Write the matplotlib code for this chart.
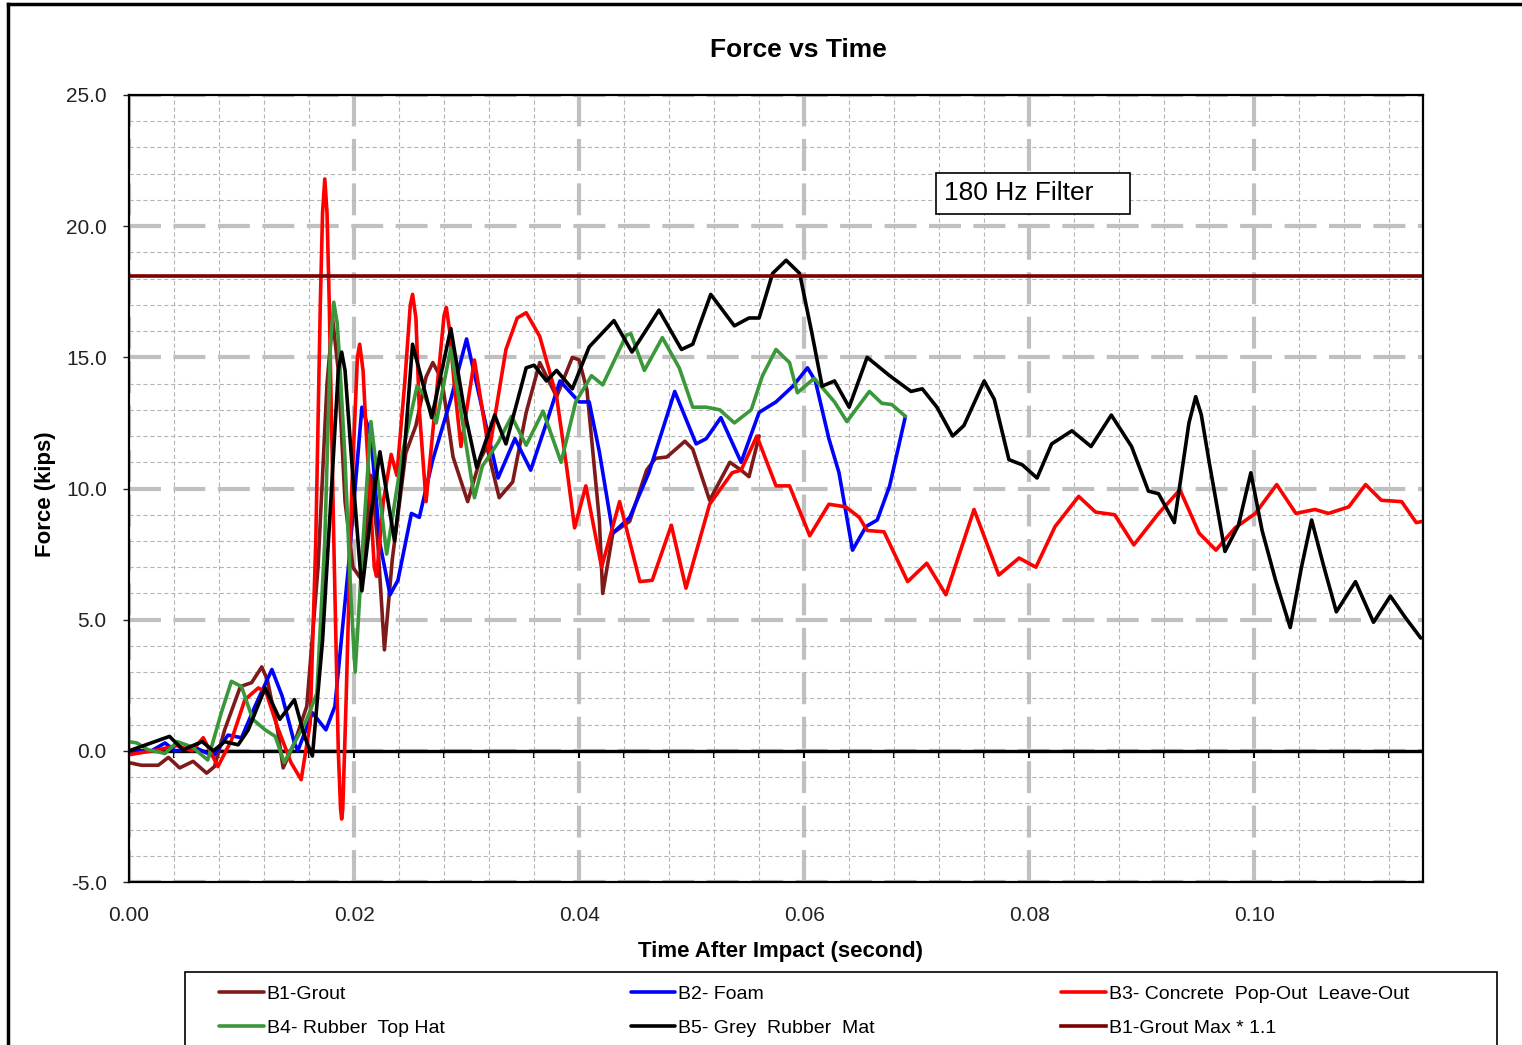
import matplotlib
matplotlib.use('Agg')
import matplotlib.pyplot as plt
import numpy as np
from matplotlib.lines import Line2D
from matplotlib.patches import Rectangle

plt.rcParams['font.family'] = ['Liberation Sans', 'DejaVu Sans']
plt.rcParams['lines.scale_dashes'] = False

# (time [s], force [kips])
b1_grout = [(0, -0.45), (0.0011, -0.55), (0.0026, -0.55), (0.0035, -0.25), (0.0045, -0.65),
            (0.0057, -0.4), (0.0069, -0.85), (0.0076, -0.6), (0.0085, 0.8), (0.0099, 2.45),
            (0.0109, 2.6), (0.0118, 3.2), (0.0123, 2.7), (0.0132, 0.8), (0.0137, -0.65),
            (0.0147, 0.3), (0.0158, 1.7), (0.0168, 7.0), (0.0176, 14.0), (0.0181, 16.45),
            (0.0186, 14.5), (0.0192, 9.5), (0.0199, 7.0), (0.0207, 6.5), (0.0215, 10.5),
            (0.0221, 8.0), (0.0227, 3.85), (0.0234, 7.3), (0.0246, 11.35), (0.0255, 12.4),
            (0.0264, 14.25), (0.027, 14.8), (0.0278, 14.15), (0.0288, 11.2), (0.0301, 9.5),
            (0.0312, 11.1), (0.0318, 11.6), (0.0329, 9.65), (0.0341, 10.25), (0.0353, 12.9),
            (0.0365, 14.8), (0.038, 13.5), (0.0394, 15.0), (0.04, 14.9), (0.0407, 13.75),
            (0.0418, 8.8), (0.0421, 6.0), (0.043, 8.3), (0.0445, 8.75), (0.046, 10.7),
            (0.0468, 11.15), (0.0478, 11.2), (0.0494, 11.8), (0.0501, 11.5), (0.0516, 9.55),
            (0.0534, 11.0), (0.0544, 10.7), (0.0551, 10.45), (0.056, 12.0)]

b2_foam = [(0, 0), (0.002, 0), (0.0032, 0.3), (0.0041, 0), (0.006, 0.1), (0.0075, -0.2),
           (0.0088, 0.6), (0.01, 0.5), (0.0112, 1.7), (0.0127, 3.1), (0.0136, 2.1),
           (0.0147, 0.3), (0.015, 0), (0.0163, 1.45), (0.0175, 0.8), (0.0183, 1.7),
           (0.0195, 7.0), (0.0207, 13.1), (0.0215, 12.0), (0.0223, 7.9), (0.0232, 5.95),
           (0.0239, 6.5), (0.0251, 9.05), (0.0258, 8.9), (0.027, 11.1), (0.0286, 13.4),
           (0.03, 15.7), (0.0312, 13.4), (0.0328, 10.4), (0.0343, 11.9), (0.0357, 10.7),
           (0.0371, 12.5), (0.0383, 14.1), (0.04, 13.3), (0.0409, 13.3), (0.0418, 11.4),
           (0.043, 8.3), (0.0445, 8.9), (0.0462, 10.6), (0.0485, 13.7), (0.0504, 11.7),
           (0.0513, 11.9), (0.0526, 12.7), (0.0544, 11.0), (0.056, 12.9), (0.0575, 13.3),
           (0.059, 13.9), (0.0603, 14.6), (0.061, 14.1), (0.0622, 11.9), (0.0631, 10.6),
           (0.0643, 7.65), (0.0655, 8.55), (0.0665, 8.8), (0.0676, 10.1), (0.069, 12.75)]

b3_concrete = [(0, -0.15), (0.0026, 0.04), (0.0043, 0.2), (0.0056, 0.0), (0.0066, 0.5),
               (0.0079, -0.6), (0.0091, 0.4), (0.0103, 1.95), (0.0115, 2.4), (0.0122, 2.2),
               (0.0132, 0.9), (0.0144, -0.45), (0.0153, -1.1), (0.0161, 1.05), (0.0166, 8.0),
               (0.017, 17.0), (0.0172, 20.5), (0.0174, 21.8), (0.0176, 20.5), (0.0178, 17.0),
               (0.0182, 8.0), (0.0186, 0.0), (0.0188, -2.2), (0.0189, -2.6), (0.019, -2.2),
               (0.0193, 2.0), (0.0198, 10.0), (0.0203, 15.0), (0.0205, 15.5), (0.0208, 14.5),
               (0.0211, 12.0), (0.0218, 7.0), (0.022, 6.65), (0.0226, 9.5), (0.0233, 11.3),
               (0.0238, 10.5), (0.0245, 14.0), (0.025, 17.0), (0.0252, 17.4), (0.0255, 16.5),
               (0.0258, 13.0), (0.0264, 9.5), (0.0273, 13.5), (0.028, 16.6), (0.0282, 16.9),
               (0.0285, 16.0), (0.0289, 14.0), (0.0295, 11.6), (0.0307, 14.9), (0.032, 11.4),
               (0.0335, 15.3), (0.0345, 16.5), (0.0353, 16.7), (0.0365, 15.8), (0.038, 13.5),
               (0.0389, 10.8), (0.0396, 8.5), (0.0406, 10.1), (0.042, 7.0), (0.0436, 9.5),
               (0.0454, 6.45), (0.0465, 6.5), (0.0482, 8.6), (0.0495, 6.2), (0.0516, 9.4),
               (0.0536, 10.6), (0.0544, 10.7), (0.0558, 12.0), (0.0575, 10.1), (0.0587, 10.1),
               (0.0605, 8.2), (0.0622, 9.4), (0.0637, 9.3), (0.0649, 8.9), (0.0656, 8.4),
               (0.0671, 8.35), (0.0692, 6.45), (0.0709, 7.15), (0.0726, 5.95), (0.0751, 9.2),
               (0.0773, 6.7), (0.0791, 7.35), (0.0806, 7.0), (0.0823, 8.55), (0.0844, 9.7),
               (0.0859, 9.1), (0.0876, 9.0), (0.0893, 7.85), (0.0915, 9.05), (0.0934, 9.95),
               (0.0951, 8.3), (0.0966, 7.65), (0.0983, 8.5), (0.1001, 9.05), (0.102, 10.15),
               (0.1037, 9.05), (0.1054, 9.2), (0.1066, 9.05), (0.1084, 9.3), (0.1099, 10.15),
               (0.1113, 9.55), (0.1131, 9.5), (0.1144, 8.7), (0.115, 8.75)]

b4_tophat = [(0, 0.35), (0.0007, 0.3), (0.0017, 0.04), (0.0032, -0.1), (0.0043, 0.35),
             (0.0056, 0.15), (0.007, -0.35), (0.0082, 1.45), (0.0091, 2.65), (0.01, 2.45),
             (0.011, 1.2), (0.0121, 0.8), (0.013, 0.55), (0.0138, -0.45), (0.0147, 0.3),
             (0.0158, 1.2), (0.0167, 2.2), (0.0174, 8.0), (0.0179, 15.5), (0.0182, 17.1),
             (0.0185, 16.3), (0.0187, 15.0), (0.0192, 11.1), (0.0197, 6.0), (0.0201, 3.0),
             (0.0208, 8.0), (0.0215, 12.55), (0.0222, 10.0), (0.0229, 7.5), (0.0243, 11.35),
             (0.0256, 13.9), (0.0262, 13.6), (0.0273, 12.5), (0.0286, 15.35), (0.0298, 12.1),
             (0.0307, 9.65), (0.0314, 10.85), (0.0328, 11.75), (0.034, 12.75), (0.0353, 11.65),
             (0.0368, 12.95), (0.0384, 11.0), (0.0397, 13.3), (0.0411, 14.3), (0.0421, 13.95),
             (0.0442, 15.85), (0.0446, 15.9), (0.0458, 14.5), (0.0474, 15.75), (0.0489, 14.6),
             (0.0501, 13.1), (0.0513, 13.1), (0.0525, 13.0), (0.0538, 12.5), (0.0553, 13.0),
             (0.0563, 14.3), (0.0575, 15.3), (0.0587, 14.8), (0.0594, 13.65), (0.0609, 14.2),
             (0.0627, 13.3), (0.0638, 12.55), (0.0658, 13.7), (0.0669, 13.25), (0.0678, 13.2),
             (0.069, 12.75)]

b5_rubber = [(0, 0), (0.0036, 0.55), (0.0048, 0.04), (0.0065, 0.35), (0.0075, 0.0),
             (0.0085, 0.35), (0.0097, 0.23), (0.0106, 0.8), (0.0121, 2.4), (0.0134, 1.2),
             (0.0147, 1.95), (0.0156, 0.55), (0.0163, -0.2), (0.0172, 4.2), (0.018, 10.0),
             (0.0186, 14.5), (0.0189, 15.2), (0.0192, 14.5), (0.0198, 11.0), (0.0207, 6.1),
             (0.0215, 9.0), (0.0223, 11.4), (0.0236, 8.0), (0.0244, 11.0), (0.0252, 15.5),
             (0.0269, 12.7), (0.0286, 16.1), (0.0298, 13.0), (0.0309, 10.8), (0.0325, 12.8),
             (0.0335, 11.7), (0.0353, 14.6), (0.036, 14.7), (0.0371, 14.1), (0.038, 14.5),
             (0.0394, 13.8), (0.0409, 15.4), (0.0431, 16.4), (0.0447, 15.2), (0.0471, 16.8),
             (0.0491, 15.3), (0.0501, 15.5), (0.0517, 17.4), (0.0538, 16.2), (0.0551, 16.5),
             (0.056, 16.5), (0.0572, 18.2), (0.0584, 18.7), (0.0596, 18.2), (0.0607, 15.9),
             (0.0616, 13.9), (0.0627, 14.1), (0.064, 13.1), (0.0656, 15.0), (0.0676, 14.3),
             (0.0695, 13.7), (0.0705, 13.8), (0.0718, 13.1), (0.0732, 12.0), (0.0742, 12.4),
             (0.076, 14.1), (0.0769, 13.4), (0.0782, 11.1), (0.0794, 10.9), (0.0807, 10.4),
             (0.082, 11.7), (0.0838, 12.2), (0.0855, 11.6), (0.0873, 12.8), (0.0891, 11.6),
             (0.0906, 9.9), (0.0915, 9.8), (0.0929, 8.7), (0.0942, 12.5), (0.0948, 13.5),
             (0.0953, 12.8), (0.096, 11.0), (0.0974, 7.6), (0.0986, 8.6), (0.0997, 10.6),
             (0.1007, 8.4), (0.1019, 6.5), (0.1032, 4.7), (0.1042, 7.0), (0.1051, 8.8),
             (0.1062, 7.0), (0.1073, 5.3), (0.109, 6.45), (0.1106, 4.9), (0.1121, 5.9),
             (0.1134, 5.1), (0.1148, 4.3)]

series = [
    ('B1-Grout', b1_grout, '#7f1a1a'),
    ('B2- Foam', b2_foam, '#0000ff'),
    ('B3- Concrete  Pop-Out  Leave-Out', b3_concrete, '#ff0000'),
    ('B4- Rubber  Top Hat', b4_tophat, '#3a973a'),
    ('B5- Grey  Rubber  Mat', b5_rubber, '#000000'),
]
max_factor = 1.1
xlim = (0, 0.115)
ylim = (-5, 25)

W, H = 1522, 1045
fig = plt.figure(figsize=(W / 100, H / 100), dpi=100)
ax = fig.add_axes([129 / W, 163 / H, 1294 / W, 787 / H])

handles = {}
for name, pts, col in series:
    arr = np.array(pts)
    ln, = ax.plot(arr[:, 0], arr[:, 1], color=col, lw=2.6, label=name,
                  solid_joinstyle='round', solid_capstyle='round')
    handles[name] = ln

grout_max = np.array(b1_grout)[:, 1].max() * max_factor
mx, = ax.plot(xlim, [grout_max, grout_max], color='#7b0000', lw=2.6, label='B1-Grout Max * 1.1')
handles['max'] = mx

ax.set_xlim(*xlim)
ax.set_ylim(*ylim)
ax.set_xticks(np.arange(0, 0.1001, 0.02))
ax.set_xticks(np.arange(0, 0.115, 0.004), minor=True)
ax.set_yticks(np.arange(-5, 25.1, 5))
ax.set_yticks(np.arange(-5, 25, 1), minor=True)
ax.xaxis.set_major_formatter(matplotlib.ticker.FormatStrFormatter('%.2f'))
ax.yaxis.set_major_formatter(matplotlib.ticker.FormatStrFormatter('%.1f'))

ax.set_axisbelow(True)
ax.grid(which='minor', color='#b4b4b4', lw=0.8, linestyle=(0, (3, 2)))
ax.grid(which='major', color='#c0c0c0', lw=3.0, linestyle=(0, (23, 9)))

ax.tick_params(axis='x', which='both', length=0, pad=17, labelsize=15, colors='#222222')
ax.tick_params(axis='y', which='major', direction='out', length=4, width=1, pad=12,
               labelsize=15, colors='#222222')
ax.tick_params(axis='y', which='minor', length=0)
for s in ax.spines.values():
    s.set_color('black')
    s.set_linewidth(1.6)

# zero axis line with its small tick marks
ax.axhline(0, color='black', lw=2.4, zorder=1.5)
sec = ax.secondary_xaxis((0 - ylim[0]) / (ylim[1] - ylim[0]))
sec.set_xticks(np.arange(0, 0.115, 0.004))
sec.tick_params(direction='out', length=5, width=1.5, labelbottom=False, labeltop=False)
sec.spines['bottom'].set_visible(False)

# filter note
ax.add_patch(Rectangle((0.6236, 0.8488), 0.15, 0.0521, transform=ax.transAxes,
                       facecolor='white', edgecolor='black', lw=1.2, zorder=5))
ax.text(0.6298, 0.8749, '180 Hz Filter', transform=ax.transAxes, fontsize=19,
        va='center', ha='left', zorder=6)

fig.text(798 / W, 1 - 50 / H, 'Force vs Time', ha='center', va='center',
         fontsize=19, fontweight='bold')
fig.text(781 / W, 1 - 952 / H, 'Time After Impact (second)', ha='center', va='center',
         fontsize=16, fontweight='bold')
fig.text(45 / W, 1 - 494 / H, 'Force (kips)', ha='center', va='center',
         rotation=90, fontsize=16, fontweight='bold')

# legend: rows B1,B2,B3 / B4,B5,Max
order = ['B1-Grout', 'B4- Rubber  Top Hat', 'B2- Foam', 'B5- Grey  Rubber  Mat',
         'B3- Concrete  Pop-Out  Leave-Out', 'max']
leg = fig.legend([handles[k] for k in order], [handles[k].get_label() for k in order],
                 loc='upper left', ncol=3, mode='expand', frameon=False,
                 bbox_to_anchor=(219 / W, 1 - 996 / H, 1190 / W, 0.01),
                 borderpad=0, borderaxespad=0, fontsize=14, handlelength=2.3,
                 handletextpad=0.15, labelspacing=0.82)
fig.add_artist(Rectangle((185 / W, -0.05), 1312 / W, 0.05 + 1 - 972 / H,
                         transform=fig.transFigure, fill=False, ec='black', lw=1.2))

# outer border (left and top)
fig.add_artist(Line2D([8 / W, 8 / W], [0, 1 - 4 / H], color='black', lw=2.5))
fig.add_artist(Line2D([8 / W, 1], [1 - 4 / H, 1 - 4 / H], color='black', lw=2.5))

fig.savefig('out.png', dpi=100)
